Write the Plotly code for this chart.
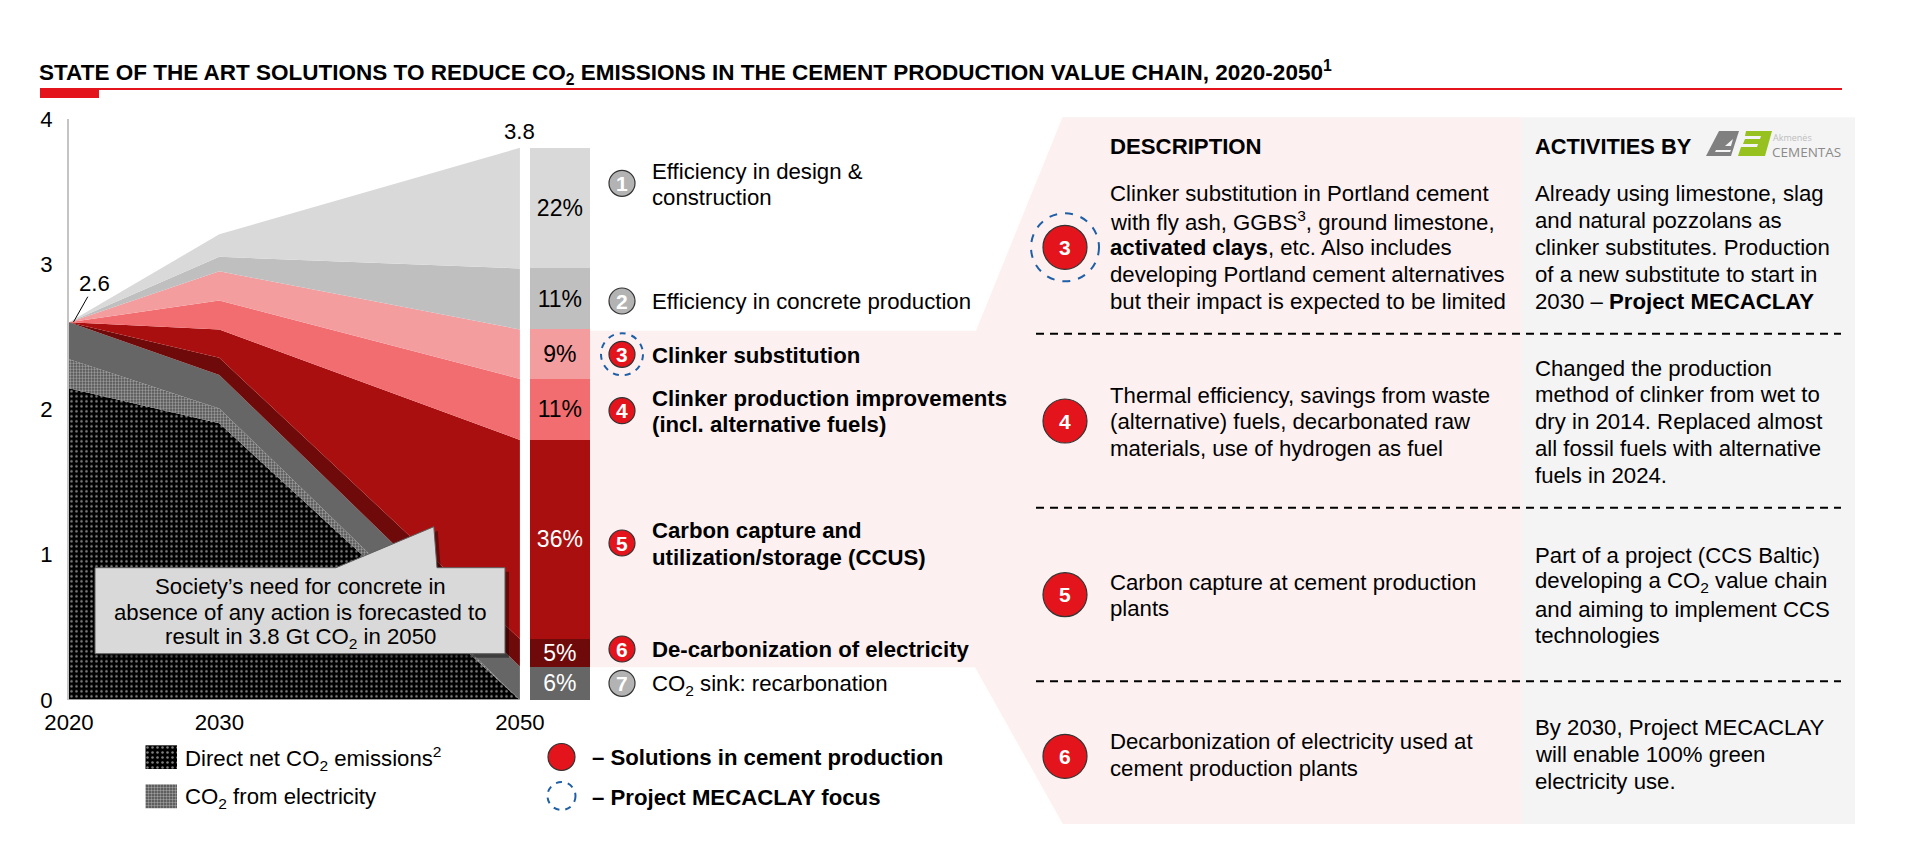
import plotly.graph_objects as go

W, H = 1920, 848
FONT = 'Liberation Sans'
SIZE = 22.2

# Data (Gt CO2 per layer, bottom to top)
years = [2020, 2030, 2050]
direct_net = [2.145, 1.904, 0.0]
from_electricity = [0.20, 0.103, 0.0]
recarbonation = [0.255, 0.23, 0.23]
decarb_electricity = [0.0, 0.118, 0.19]
ccus = [0.0, 0.195, 1.37]
clinker_production = [0.0, 0.20, 0.42]
clinker_substitution = [0.0, 0.20, 0.34]
eff_concrete = [0.0, 0.10, 0.42]
eff_design = [0.0, 0.155, 0.83]

bar_labels = ['6%', '5%', '36%', '11%', '9%', '11%', '22%']
y_ticks = [0, 1, 2, 3, 4]

layers = [recarbonation, decarb_electricity, ccus, clinker_production,
          clinker_substitution, eff_concrete, eff_design]
layer_names = ['CO2 sink: recarbonation', 'De-carbonization of electricity', 'CCUS',
               'Clinker production improvements', 'Clinker substitution',
               'Efficiency in concrete production', 'Efficiency in design & construction']
layer_colors = ['#666666', '#6e0a0a', '#a90f0f', '#f16d70', '#f49d9f', '#bfbfbf', '#d9d9d9']
bar_text_colors = ['white', 'white', 'white', 'black', 'black', 'black', 'black']

RED = '#e3141b'
BLUE = '#1f5fa8'
DOTS = dict(shape='.', bgcolor='black', fgcolor='white', size=5, solidity=0.2)
CHECK = dict(shape='.', bgcolor='#4a4a4a', fgcolor='#f0f0f0', size=3, solidity=0.5)


def px(x):
    return x / W


def py(y):
    return 1 - y / H


def poly(points):
    return 'M ' + ' L '.join(f'{px(x):.5f} {py(y):.5f}' for x, y in points) + ' Z'


shapes = []
annotations = []


def polygon(points, fill, line=None, width=0, layer='below'):
    shapes.append(dict(type='path', path=poly(points), xref='paper', yref='paper', fillcolor=fill,
                       line=dict(color=line or fill, width=width), layer=layer))


def hline(x0, x1, y, color, width, dash='solid', layer='above'):
    shapes.append(dict(type='line', xref='paper', yref='paper', x0=px(x0), x1=px(x1), y0=py(y), y1=py(y),
                       line=dict(color=color, width=width, dash=dash), layer=layer))


def text(x, y, s, size=SIZE, color='black', anchor='left', family=FONT):
    annotations.append(dict(x=px(x), y=py(y), xref='paper', yref='paper', text=s, showarrow=False,
                            xanchor=anchor, yanchor='middle', align=anchor, borderpad=0,
                            font=dict(family=family, size=size, color=color)))


def lines(x, ys, rows, size=SIZE):
    for y, row in zip(ys, rows):
        text(x, y, row, size=size)


def circle(x, y, r, fill, line, width=1.2, dash='solid'):
    shapes.append(dict(type='circle', xref='paper', yref='paper', x0=px(x - r), x1=px(x + r),
                       y0=py(y + r), y1=py(y - r), fillcolor=fill,
                       line=dict(color=line, width=width, dash=dash), layer='above'))


def badge(x, y, r, label, fill=RED):
    circle(x, y, r, fill, '#333333')
    text(x, y, f'<b>{label}</b>', size=21, color='white', anchor='center')


# Backgrounds behind the chart and the table
polygon([(590, 330.7), (976, 330.7), (1062.5, 117.3), (1521, 117.3), (1521, 824),
         (1062.8, 824), (975, 667.3), (590, 667.3)], '#fcf1f0')
polygon([(1521, 117.3), (1855, 117.3), (1855, 824), (1521, 824)], '#f4f4f4')

# Title and rule
text(38, 72.5, '<b>STATE OF THE ART SOLUTIONS TO REDUCE CO<sub>2</sub> EMISSIONS IN THE CEMENT '
     'PRODUCTION VALUE CHAIN, 2020-2050<sup>1</sup></b>', size=22.5)
hline(40, 1842, 89, RED, 2)
polygon([(40, 88), (99, 88), (99, 98), (40, 98)], RED)

# Callout over the chart
callout = [(95, 567.7), (336, 567.7), (433.8, 526.7), (437, 567.7), (505, 567.7), (505, 653.7), (95, 653.7)]
polygon([(x + 4, y + 4) for x, y in callout], 'rgba(0,0,0,0.40)', layer='above')
polygon(callout, '#d9d9d9', line='#5f5f5f', width=1, layer='above')
text(300, 586, 'Society’s need for concrete in', anchor='center')
text(300, 612.5, 'absence of any action is forecasted to', anchor='center')
text(300, 638.3, 'result in 3.8 Gt CO<sub>2</sub> in 2050', anchor='center')

# Leader of the 2.6 label
shapes.append(dict(type='line', xref='paper', yref='paper', x0=px(87.8), y0=py(296.7), x1=px(73.5), y1=py(322),
                   line=dict(color='black', width=1), layer='above'))
text(94, 283, '2.6', anchor='center')

# Labels beside the bar
badge(622, 183.3, 13, '1', fill='#b3b3b3')
badge(622, 301, 13, '2', fill='#b3b3b3')
badge(622, 354.3, 13, '3')
circle(622, 354.3, 21, 'rgba(0,0,0,0)', BLUE, width=2, dash='6px,6px')
badge(622, 410.7, 13, '4')
badge(622, 543, 13, '5')
badge(622, 649, 13, '6')
badge(622, 683.3, 13, '7', fill='#b3b3b3')

LBL = 651
lines(LBL, [171.5, 197.5], ['Efficiency in design &', 'construction'])
lines(LBL, [301.5], ['Efficiency in concrete production'])
lines(LBL, [355.3], ['<b>Clinker substitution</b>'])
lines(LBL, [398.5, 425], ['<b>Clinker production improvements</b>', '<b>(incl. alternative fuels)</b>'])
lines(LBL, [530, 557], ['<b>Carbon capture and</b>', '<b>utilization/storage (CCUS)</b>'])
lines(LBL, [649.3], ['<b>De-carbonization of electricity</b>'])
lines(LBL, [685], ['CO<sub>2</sub> sink: recarbonation'])

# Legend
lines(183.5, [758.3, 798], ['Direct net CO<sub>2</sub> emissions<sup>2</sup>', 'CO<sub>2</sub> from electricity'])
circle(561.5, 757, 13.5, RED, '#333333')
circle(561.5, 796, 14, 'rgba(0,0,0,0)', BLUE, width=2, dash='6px,6px')
lines(590.5, [757, 797], ['<b>– Solutions in cement production</b>', '<b>– Project MECACLAY focus</b>'])

# Table
DESC = 1108.5
ACT = 1534.3
text(DESC, 146, '<b>DESCRIPTION</b>')
text(ACT, 146, '<b>ACTIVITIES BY</b>', size=21.8)

badge(1065, 247.3, 22, '3')
circle(1065, 247.3, 34, 'rgba(0,0,0,0)', BLUE, width=2, dash='8px,8px')
badge(1065, 421, 22, '4')
badge(1065, 594.7, 22, '5')
badge(1065, 756.3, 22, '6')

for y in [333.7, 507.7, 681.3]:
    hline(1036, 1841, y, 'black', 2, dash='8px,6px')

lines(DESC, [194, 220.7, 247.7, 274.3, 301.3],
      ['Clinker substitution in Portland cement', 'with fly ash, GGBS<sup>3</sup>, ground limestone,',
       '<b>activated clays</b>, etc. Also includes', 'developing Portland cement alternatives',
       'but their impact is expected to be limited'])
lines(ACT, [194, 220.7, 247.7, 274.3, 301.3],
      ['Already using limestone, slag', 'and natural pozzolans as', 'clinker substitutes. Production',
       'of a new substitute to start in', '2030 – <b>Project MECACLAY</b>'])
lines(DESC, [395, 421.7, 448.3],
      ['Thermal efficiency, savings from waste', '(alternative) fuels, decarbonated raw',
       'materials, use of hydrogen as fuel'])
lines(ACT, [368, 394.7, 421.7, 448.3, 475],
      ['Changed the production', 'method of clinker from wet to', 'dry in 2014. Replaced almost',
       'all fossil fuels with alternative', 'fuels in 2024.'])
lines(DESC, [582, 608.7], ['Carbon capture at cement production', 'plants'])
lines(ACT, [555.3, 582, 609, 635.7],
      ['Part of a project (CCS Baltic)', 'developing a CO<sub>2</sub> value chain',
       'and aiming to implement CCS', 'technologies'])
lines(DESC, [741.7, 768.3], ['Decarbonization of electricity used at', 'cement production plants'])
lines(ACT, [727.7, 754.7, 781.7],
      ['By 2030, Project MECACLAY', 'will enable 100% green', 'electricity use.'])

# Logo, drawn roughly
polygon([(1706, 156), (1719, 131), (1739, 131), (1731, 156)], '#808080', layer='above')
polygon([(1725, 146), (1731, 146), (1733, 139)], '#f4f4f4', layer='above')
polygon([(1716, 150), (1731, 150), (1730, 152), (1715, 152)], '#f4f4f4', layer='above')
polygon([(1746, 131), (1772, 131), (1765, 156), (1738, 156), (1741, 147), (1757, 147), (1758, 144),
         (1743, 144), (1745, 139), (1760, 139), (1761, 136), (1745, 136)], '#97c11f', layer='above')
text(1792.7, 137.5, 'Akmenės', size=9, color='#bdbdbd', anchor='center', family='Open Sans')
text(1806, 152, 'CEMENTAS', size=13.5, color='#8a8a8a', anchor='center', family='Open Sans')

fig = go.Figure()

# Stacked areas
fig.add_trace(go.Scatter(x=years, y=direct_net, name='Direct net CO2 emissions', stackgroup='one', mode='none',
                         fillcolor='black', fillpattern=DOTS))
fig.add_trace(go.Scatter(x=years, y=from_electricity, name='CO2 from electricity', stackgroup='one', mode='none',
                         fillcolor='#777777', fillpattern=CHECK))
for values, name, color in zip(layers, layer_names, layer_colors):
    fig.add_trace(go.Scatter(x=years, y=values, name=name, stackgroup='one', mode='none', fillcolor=color))

# Bar of the 2050 shares
for values, name, color, label, tcolor in zip(layers, layer_names, layer_colors, bar_labels, bar_text_colors):
    fig.add_trace(go.Bar(x=[2052.66], y=[values[-1]], width=3.99, name=name, marker=dict(color=color, line_width=0),
                         text=[label], textposition='inside', textangle=0, insidetextanchor='middle',
                         insidetextfont=dict(family=FONT, size=23, color=tcolor), constraintext='none'))

# Legend swatches on a page-sized helper axis
for (y0, y1), pattern, color in [((745.3, 769), DOTS, 'black'), ((784.3, 808.3), CHECK, '#777777')]:
    fig.add_trace(go.Scatter(x=[145.5, 177, 177, 145.5, 145.5], y=[y0, y0, y1, y1, y0], xaxis='x2', yaxis='y2',
                             mode='none', fill='toself', fillcolor=color, fillpattern=pattern, hoverinfo='skip'))

fig.add_annotation(x=2050, y=3.8, yshift=16, text='3.8', showarrow=False, font=dict(family=FONT, size=SIZE))
shapes.append(dict(type='line', xref='x', yref='y', x0=2020, x1=2050, y0=0, y1=0,
                   line=dict(color='#d0d0d0', width=1.5), layer='above'))

fig.update_layout(
    width=W, height=H, margin=dict(l=0, r=0, t=0, b=0, pad=0), autosize=False,
    paper_bgcolor='white', plot_bgcolor='rgba(0,0,0,0)', showlegend=False, barmode='stack',
    font=dict(family=FONT, size=SIZE, color='black'),
    xaxis=dict(domain=[px(69), px(595.05)], range=[2020, 2055], tickvals=years, showgrid=False, zeroline=False,
               ticks='', ticklabelstandoff=7, tickfont=dict(size=SIZE), fixedrange=True, automargin=False),
    yaxis=dict(domain=[py(700), py(118.8)], range=[0, 4], tickvals=y_ticks, showgrid=False, zeroline=False,
               showline=True, linecolor='#c4c4c4', linewidth=2, ticks='', ticklabelstandoff=10,
               tickfont=dict(size=SIZE), fixedrange=True, automargin=False),
    xaxis2=dict(domain=[0, 1], range=[0, W], anchor='y2', visible=False, fixedrange=True, automargin=False),
    yaxis2=dict(domain=[0, 1], range=[H, 0], anchor='x2', visible=False, fixedrange=True, automargin=False),
    shapes=shapes,
)
for a in annotations:
    fig.add_annotation(a)

fig.write_html('out.html', post_script="document.body.style.margin='0';", config=dict(displayModeBar=False))
